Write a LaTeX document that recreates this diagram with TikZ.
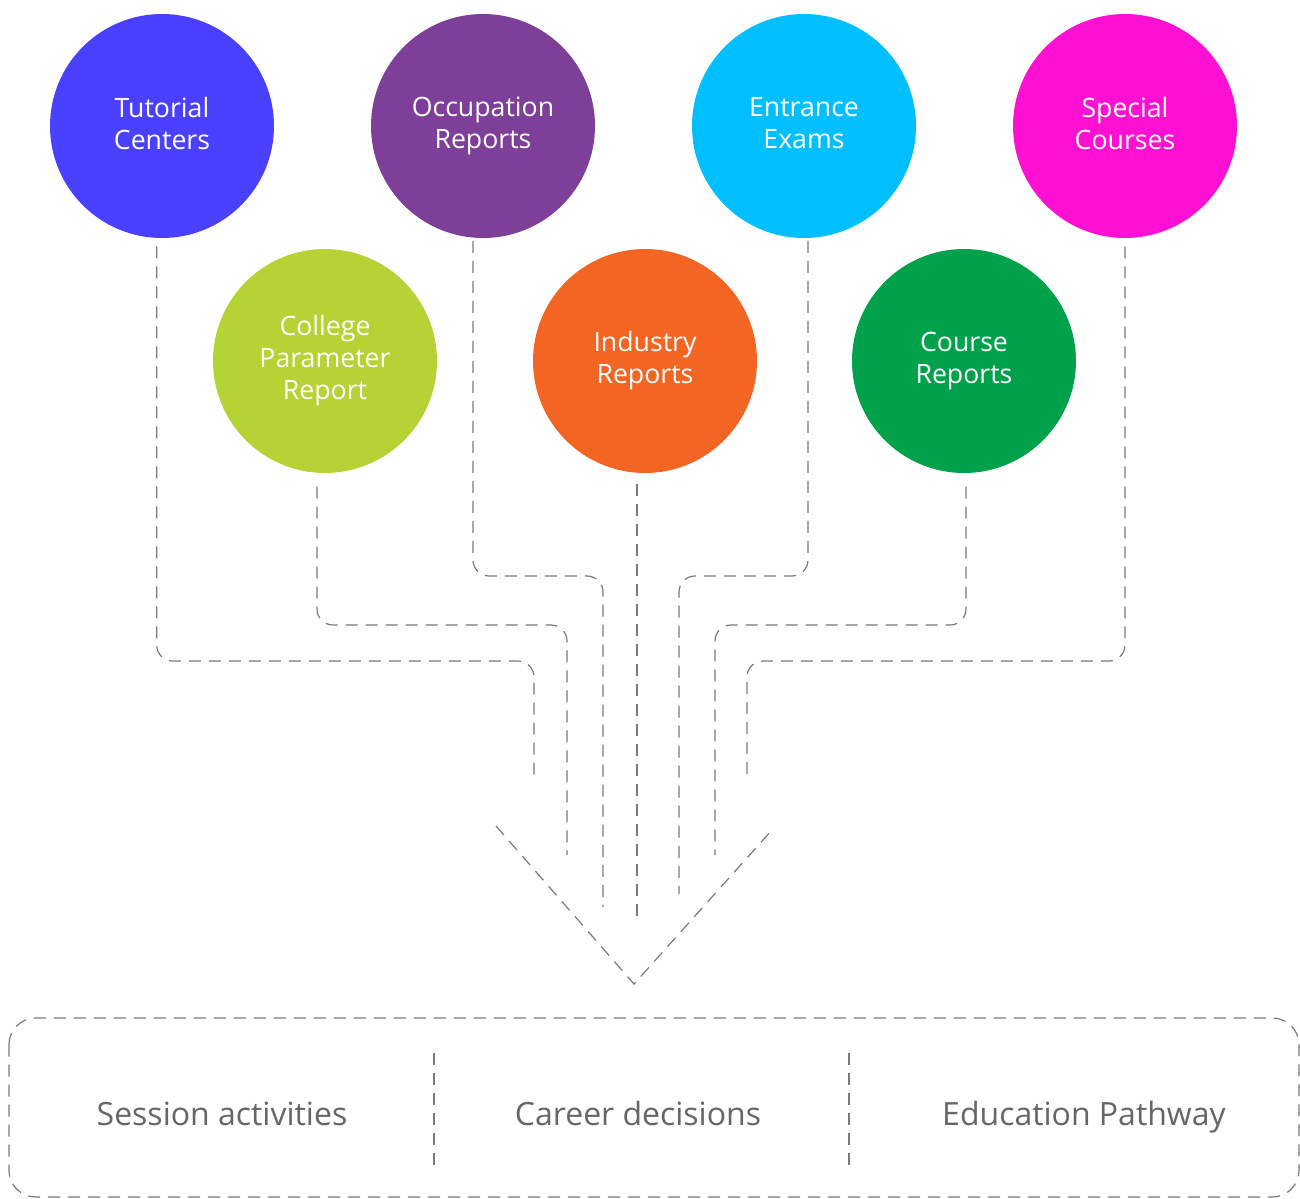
\documentclass[tikz,border=0pt]{standalone}
\usepackage{fontspec}
\setmainfont{Open Sans}
\definecolor{tutblue}{HTML}{4A40FF}
\definecolor{occpurple}{HTML}{7D3F98}
\definecolor{entcyan}{HTML}{00BFFF}
\definecolor{spcpink}{HTML}{FF10D2}
\definecolor{colgreen}{HTML}{B5D334}
\definecolor{indorange}{HTML}{F26522}
\definecolor{crsgreen}{HTML}{00A14B}
\definecolor{linegray}{HTML}{7A7A7A}
\definecolor{textgray}{HTML}{666666}

\tikzset{bubble/.style = {circle, minimum size = 168pt, inner sep = 0pt, align = center,
                          text = white, font = \fontsize{20}{24}\selectfont,
                          execute at end node = \rule[-4pt]{0pt}{1pt}},
         link/.style = {draw = linegray, line width = 0.9pt, dash pattern = on 9pt off 6pt,
                        rounded corners = 12pt},
         slot/.style = {text = textgray, font = \fontsize{24}{28}\selectfont,
                        execute at begin node = \strut}
        }

\begin{document}
\begin{tikzpicture}[x=0.75pt, y=-0.75pt]
  \useasboundingbox (0, 0) rectangle (1300, 1199);
  \foreach \name/\x/\y/\col/\txt in {tut/162/126/tutblue/{Tutorial\\Centers},
      occ/483/126/occpurple/{Occupation\\Reports}, ent/804/126/entcyan/{Entrance\\Exams},
      spc/1125/126/spcpink/{Special\\Courses}, col/325/361/colgreen/{College\\Parameter\\Report},
      ind/645/361/indorange/{Industry\\Reports}, crs/964/361/crsgreen/{Course\\Reports}}
      {\node[bubble, fill=\col] (\name) at (\x, \y) {\txt};};
  \coordinate (e1) at (534, 780);
  \coordinate (e2) at (567, 855);
  \coordinate (e3) at (603, 907);
  \coordinate (e4) at (637, 920);
  \coordinate (e5) at (679, 894);
  \coordinate (e6) at (715, 855);
  \coordinate (e7) at (747, 780);
  \draw[link, shorten <=6pt] ([xshift=-4pt]tut.south) |- (534, 661) -- (e1);
  \draw[link, shorten <=10pt] ([xshift=-6pt]col.south) |- (567, 625) -- (e2);
  \draw[link, shorten <=2pt] ([xshift=-7.5pt]occ.south) |- (603, 576) -- (e3);
  \draw[link, shorten <=8pt] ([xshift=-6pt]ind.south) -- (e4);
  \draw[link, shorten <=2pt] ([xshift=3pt]ent.south) |- (679, 576) -- (e5);
  \draw[link, shorten <=10pt] ([xshift=1.5pt]crs.south) |- (715, 625) -- (e6);
  \draw[link, shorten <=6pt] (spc.south) |- (747, 661) -- (e7);
  \coordinate (tipL) at (496, 826);
  \coordinate (tip) at (634, 984);
  \coordinate (tipR) at (772, 830);
  \draw[link, sharp corners] (tipL) -- (tip) -- (tipR);
  \draw[link, rounded corners=20pt] (9, 1018) rectangle (1299, 1197);
  \draw[link] (434, 1053) -- (434, 1172);
  \draw[link] (849, 1053) -- (849, 1172);
  \node[slot] (sess) at (222, 1118) {Session activities};
  \node[slot] (car) at (638, 1118) {Career decisions};
  \node[slot] (edu) at (1084, 1118) {Education Pathway};
\end{tikzpicture}
\end{document}
